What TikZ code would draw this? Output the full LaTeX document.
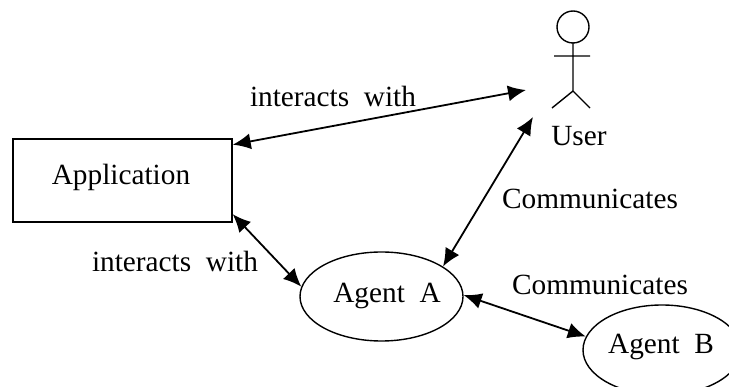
\documentclass[tikz,border=0pt]{standalone}
\usepackage{fontspec}
\setmainfont{Liberation Serif}
\usetikzlibrary{arrows.meta,shapes.geometric}
\tikzset{
  labeltext/.style={inner sep=0pt,font=\fontsize{29.3}{31}\selectfont},
  twoway/.style={{Latex[length=18pt,width=16pt]}-{Latex[length=18pt,width=16pt]},line width=1.8pt},
  outline/.style={draw,line width=1.4pt}
}
\begin{document}
\begin{tikzpicture}[x=1pt,y=1pt,yscale=-1]
\useasboundingbox (0,0) rectangle (729,387);

% user figure
\draw[outline] (573,27) circle (16);
\draw[outline] (573,43) -- (573,91) (554,56) -- (590,56) (552,108) -- (573,91) -- (590,108);

\node[outline,minimum width=219pt,minimum height=83pt,inner sep=0pt] (app) at (122.5,180.5) {};
\node[outline,ellipse,minimum width=163pt,minimum height=89pt,inner sep=0pt] (agentA) at (381.5,296.5) {};
\node[outline,ellipse,minimum width=158pt,minimum height=90pt,inner sep=0pt] (agentB) at (662,350) {};

% Text Node
\node[labeltext] (apptxt) at (121,177) {Application};
\node[labeltext] (agentAtxt) at (387,296) {Agent\ \ A};
\node[labeltext] (agentBtxt) at (661,347) {Agent\ \ B};
\node[labeltext] (usertxt) at (579,136) {User};
\node[labeltext] (withtop) at (333,96) {interacts\ \ with};
\node[labeltext] (withlow) at (175,261) {interacts\ \ with};
\node[labeltext] (commtop) at (590,199) {Communicates};
\node[labeltext] (commlow) at (600,285) {Communicates};

\coordinate (userL) at (526,90);
\coordinate (userB) at (533,117);

\draw[twoway] (app.18.5) -- (userL);
\draw[twoway] (agentA.26) -- (userB);
\draw[twoway] (app.-17) -- (agentA.173);
\draw[twoway] (agentA.1) -- (agentB.170);
\end{tikzpicture}
\end{document}
